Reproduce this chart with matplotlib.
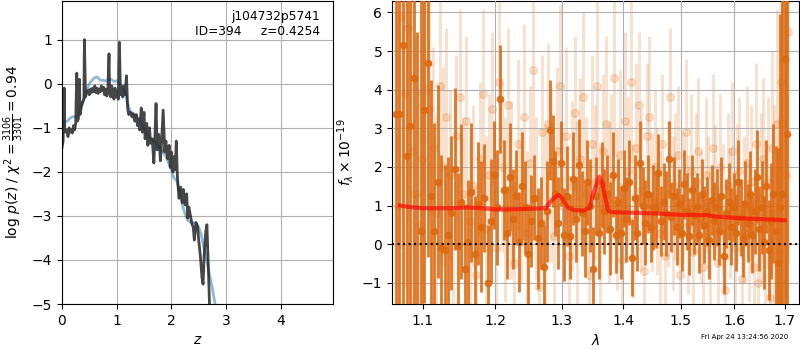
import matplotlib
matplotlib.use('Agg')
import matplotlib.pyplot as plt
import numpy as np
from matplotlib.ticker import NullLocator, FixedLocator

# --- p(z) panel ---
z_pdf = [0.00, 0.02, 0.04, 0.05, 0.07, 0.09, 0.11, 0.13, 0.15, 0.17,
         0.19, 0.21, 0.23, 0.25, 0.27, 0.28, 0.30, 0.32, 0.33, 0.35,
         0.37, 0.40, 0.41, 0.43, 0.45, 0.48, 0.50, 0.52, 0.54, 0.56,
         0.58, 0.60, 0.62, 0.64, 0.66, 0.68, 0.70, 0.72, 0.74, 0.76,
         0.78, 0.80, 0.82, 0.84, 0.86, 0.87, 0.89, 0.91, 0.93, 0.95,
         0.97, 0.99, 1.01, 1.03, 1.05, 1.07, 1.09, 1.11, 1.13, 1.15,
         1.18, 1.20, 1.22, 1.25, 1.28, 1.30, 1.33, 1.36, 1.38, 1.40,
         1.42, 1.45, 1.47, 1.50, 1.52, 1.55, 1.57, 1.60, 1.62, 1.65,
         1.68, 1.70, 1.72, 1.74, 1.77, 1.80, 1.82, 1.85, 1.88, 1.90,
         1.93, 1.96, 1.98, 2.00, 2.03, 2.05, 2.07, 2.09, 2.11, 2.14,
         2.17, 2.20, 2.22, 2.25, 2.28, 2.30, 2.32, 2.35, 2.38, 2.40,
         2.42, 2.45, 2.48, 2.50, 2.53, 2.56, 2.58, 2.60, 2.63, 2.65,
         2.68, 2.70]
logp = [-1.45, -1.30, -0.10, -1.00, -1.10, -1.05, -1.20, -1.00, -1.10, -1.05,
        -1.12, -0.95, -1.05, -0.90, 0.24, -0.85, -0.80, 0.10, -0.70, -0.55,
        -0.45, -0.35, 1.00, -0.30, -0.20, -0.15, -0.25, -0.12, -0.20, -0.10,
        -0.18, -0.05, -0.20, -0.10, -0.22, -0.12, -0.18, -0.05, -0.15, -0.08,
        -0.25, -0.12, -0.28, -0.10, 0.68, -0.20, -0.30, -0.05, -0.20, -0.35,
        -0.10, -0.30, -0.20, -0.35, 0.94, -0.25, -0.10, -0.30, -0.05, -0.25,
        0.18, -0.55, -0.70, -0.65, -0.75, -0.68, -0.85, -0.70, -0.95, -0.80,
        -1.05, -0.55, -1.10, -0.65, -1.25, -0.90, -1.40, -1.00, -1.35, -1.25,
        -1.80, -1.20, -0.45, -1.50, -1.15, -1.75, -1.35, -0.60, -1.55, -1.30,
        -1.70, -1.40, -1.90, -1.55, -2.00, -1.65, -1.95, -1.30, -2.10, -2.60,
        -2.35, -2.70, -2.40, -2.75, -2.50, -3.05, -2.80, -3.00, -3.20, -3.25,
        -3.55, -3.15, -3.25, -3.55, -3.90, -4.40, -4.55, -3.90, -3.35, -3.20,
        -4.30, -5.10]

z_smooth = [0.00, 0.03, 0.06, 0.10, 0.15, 0.20, 0.25, 0.30, 0.35, 0.40,
            0.45, 0.50, 0.55, 0.60, 0.65, 0.70, 0.75, 0.80, 0.85, 0.90,
            0.95, 1.00, 1.05, 1.10, 1.15, 1.20, 1.25, 1.30, 1.35, 1.40,
            1.45, 1.50, 1.55, 1.60, 1.65, 1.70, 1.75, 1.80, 1.85, 1.90,
            1.95, 2.00, 2.05, 2.10, 2.15, 2.20, 2.25, 2.30, 2.35, 2.40,
            2.45, 2.50, 2.55, 2.60, 2.65, 2.70, 2.75, 2.80, 2.83]
logp_smooth = [-1.35, -0.95, -0.85, -0.85, -0.78, -0.75, -0.75, -0.70, -0.50, -0.35,
               -0.15, 0.00, 0.08, 0.14, 0.15, 0.08, 0.08, 0.06, 0.10, 0.10,
               0.05, 0.07, 0.00, -0.05, -0.20, -0.45, -0.62, -0.68, -0.72, -0.80,
               -0.90, -1.02, -1.15, -1.22, -1.28, -1.32, -1.40, -1.48, -1.55, -1.65,
               -1.80, -1.95, -2.15, -2.20, -2.45, -2.75, -2.95, -3.10, -3.15, -3.15,
               -3.18, -3.25, -3.45, -3.75, -4.00, -4.35, -4.65, -5.00, -5.20]

# --- spectrum panel ---
wave_range = (1.065, 1.7044)
flux_dark = [3.38, 3.38, 5.15, 2.28, 3.05, 4.30, -2.50, 0.33, 3.47, 4.68,
             1.25, 0.35, 1.62, -0.10, -0.15, 0.25, 0.80, 1.95, -0.05, 1.10,
             -0.65, 0.05, 1.35, -0.25, 1.05, 0.45, 1.20, -1.00, 0.60, 1.80,
             0.95, 3.75, 1.40, 0.30, 1.75, 0.65, 1.25, 0.05, 1.50, 0.95,
             -0.25, 0.60, 1.20, 0.15, 0.55, -0.60, 0.85, 2.95, 2.15, 1.30,
             0.55, 2.10, 0.25, 1.25, 0.20, 1.70, 0.65, 2.05, 0.80, 0.35,
             1.60, 1.00, -0.65, 1.25, 0.30, 1.55, 0.85, 1.30, 0.40, 1.80,
             0.25, 1.10, 0.30, 1.45, 0.65, 1.60, -0.35, 1.20, 0.30, 2.10,
             1.00, 0.55, 1.30, 0.45, 0.95, 0.90, 1.85, 0.60, 1.10, 0.80,
             2.20, 0.70, 1.25, 0.45, 1.05, 0.30, 1.55, 0.85, 0.20, 1.40,
             0.75, 0.95, 0.25, 1.30, 0.50, 0.85, 0.10, 1.15, 0.60, 0.95,
             0.35, 1.25, -0.30, 0.80, 1.10, 0.45, 0.95, 0.30, 1.60, 0.70,
             0.15, 1.05, 0.55, 1.30, 0.25, 0.85, 1.75, 0.40, 0.95, 0.05,
             1.50, -0.15, 0.60, 1.30, 0.35, -0.50, 0.95, 1.30, 4.80, 2.85]
err_dark = [8.0, 8.0, 8.0, 8.0, 8.0, 8.0, 8.0, 6.0, 5.0, 5.0,
            3.0, 2.8, 2.5, 2.4, 2.2, 2.0, 2.0, 2.1, 1.9, 2.0,
            1.7, 1.6, 1.8, 1.5, 1.6, 1.7, 1.4, 1.5, 1.6, 1.4,
            1.5, 1.4, 1.3, 1.2, 1.4, 1.3, 1.2, 1.3, 1.4, 1.2,
            1.3, 1.2, 1.1, 1.3, 1.2, 1.1, 1.3, 1.3, 1.2, 1.1,
            1.2, 1.1, 1.2, 1.3, 1.1, 1.2, 1.1, 1.2, 1.1, 1.2,
            1.1, 1.2, 1.1, 1.0, 1.2, 1.1, 1.1, 1.0, 1.2, 1.1,
            1.0, 1.1, 1.2, 1.0, 1.1, 1.1, 1.0, 1.1, 1.0, 1.1,
            1.0, 1.1, 1.0, 0.9, 1.1, 1.0, 1.0, 0.9, 1.0, 1.1,
            1.0, 0.9, 1.0, 1.0, 0.9, 1.0, 0.9, 1.0, 1.0, 0.9,
            1.0, 0.9, 1.0, 0.9, 1.0, 0.9, 1.0, 0.9, 1.0, 1.0,
            0.9, 1.0, 1.0, 0.9, 1.0, 1.0, 0.9, 1.0, 1.1, 1.0,
            1.0, 1.1, 1.0, 1.1, 1.0, 1.1, 1.2, 1.1, 1.2, 1.2,
            1.2, 1.3, 1.5, 1.8, 2.2, 3.0, 5.0, 8.0, 8.0, 8.0]
flux_light = [1.0, 5.9, 3.9, 5.6, 2.4, 1.3, 0.5, 2.2, 4.0, 3.5,
              2.5, 0.8, 4.1, 2.0, 3.3, 1.8, -1.8, 2.8, 3.8, 1.3,
              3.2, 0.6, 1.5, -0.8, 2.2, 3.9, 0.4, 1.8, 3.5, -0.1,
              4.2, 2.0, 0.9, 3.6, 1.4, -0.5, 2.6, 1.0, 3.3, 0.3,
              2.1, 4.5, 1.2, -1.1, 2.9, 0.7, 3.1, 1.8, 0.2, 2.4,
              4.1, 1.0, 2.8, -0.3, 1.5, 3.4, 0.8, 2.2, 3.8, 1.3,
              -0.8, 2.6, 1.6, 4.1, 0.5, 2.4, 3.1, 1.1, 1.7, 4.3,
              0.9, 2.3, -0.4, 3.2, 1.9, 4.2, 0.6, 2.5, 3.6, 1.4,
              -0.7, 2.8, 3.3, 1.1, 2.0, 1.1, 0.3, 2.6, -0.3, 1.3,
              3.8, 0.8, 1.5, 2.3, -0.8, 1.2, 2.9, 0.5, 1.9, -0.2,
              1.6, 2.4, 0.7, -0.6, 1.8, 1.1, 0.2, 2.5, 1.4, -0.5,
              2.0, 0.9, -1.2, 1.5, 0.8, 2.4, -0.1, 1.3, 1.9, -0.9,
              0.9, 2.1, 0.3, 1.6, -0.6, 2.6, -1.0, 1.2, 2.2, 0.4,
              1.6, -1.4, 2.5, 0.8, 3.1, -0.2, 4.2, 3.1, 1.8, 5.5]
err_light = [6.0, 6.0, 5.0, 5.0, 4.0, 4.0, 3.5, 3.2, 3.0, 2.8,
             2.6, 2.5, 2.4, 2.6, 2.3, 2.2, 2.5, 2.1, 2.3, 2.0,
             2.2, 2.4, 2.1, 2.3, 2.0, 2.2, 2.4, 2.1, 2.0, 2.3,
             2.1, 2.2, 2.4, 2.0, 2.3, 2.1, 2.2, 2.0, 2.4, 2.1,
             2.0, 2.3, 2.1, 2.2, 2.0, 2.4, 2.1, 2.3, 2.0, 2.2,
             2.1, 2.0, 2.3, 2.1, 2.2, 2.0, 2.4, 2.1, 2.2, 2.0,
             2.1, 2.3, 2.0, 2.2, 2.1, 2.0, 2.3, 2.1, 2.2, 2.0,
             2.1, 2.2, 2.0, 2.3, 1.9, 2.1, 2.0, 2.2, 1.9, 2.1,
             2.0, 1.9, 2.1, 1.8, 2.0, 1.9, 2.1, 1.8, 2.0, 1.9,
             1.8, 2.0, 1.9, 1.8, 2.0, 1.7, 1.9, 1.8, 2.0, 1.7,
             1.8, 1.9, 1.7, 1.8, 2.0, 1.7, 1.8, 1.9, 1.7, 1.8,
             1.9, 1.7, 1.8, 1.9, 1.7, 1.8, 2.0, 1.8, 1.9, 1.8,
             1.9, 2.0, 1.8, 2.0, 1.9, 2.1, 2.0, 2.2, 2.1, 2.3,
             2.2, 2.4, 2.5, 2.8, 3.0, 3.5, 4.0, 5.0, 6.0, 6.0]

wave_model = [1.07, 1.08, 1.10, 1.12, 1.14, 1.16, 1.18, 1.20, 1.22, 1.24,
              1.26, 1.275, 1.285, 1.295, 1.30, 1.31, 1.32, 1.335, 1.345, 1.35,
              1.36, 1.365, 1.37, 1.375, 1.38, 1.40, 1.45, 1.50, 1.55, 1.56,
              1.60, 1.65, 1.70]
flux_model = [1.00, 0.97, 0.93, 0.93, 0.93, 0.95, 0.93, 0.90, 0.90, 0.91,
              0.92, 0.93, 1.15, 1.28, 1.20, 0.95, 0.88, 0.87, 0.95, 1.30,
              1.75, 1.60, 1.20, 0.87, 0.83, 0.82, 0.80, 0.76, 0.75, 0.72,
              0.68, 0.65, 0.62]

wave_ticks = [1.1, 1.2, 1.3, 1.4, 1.5, 1.6, 1.7]

fig = plt.figure(figsize=(8, 3.5), dpi=100)
ax = fig.add_axes([0.0775, 0.1314, 0.339, 0.866])
ax.plot(z_smooth, logp_smooth, color='tab:blue', alpha=0.5, lw=2)
ax.plot(z_pdf, logp, color='0.15', alpha=0.85, lw=2)
ax.set_xlim(0, 4.96)
ax.set_ylim(-5, 1.88)
ax.set_xticks([0, 1, 2, 3, 4])
ax.set_yticks([-5, -4, -3, -2, -1, 0, 1])
ax.grid()
ax.set_xlabel('$z$')
ax.set_ylabel(r'log $p(z)$ / $\chi^2=\frac{3106}{3301}=0.94$')
ax.text(0.95, 0.97, 'j104732p5741\nID=394     z=0.4254', transform=ax.transAxes,
        ha='right', va='top', fontsize=8.8)

ax2 = fig.add_axes([0.49, 0.1314, 0.509, 0.866])
n = len(flux_dark)
wave = np.linspace(wave_range[0], wave_range[1], n)
orange = '#dc6a12'
ax2.errorbar(wave + 0.0023, flux_light, yerr=err_light, fmt='o', color=orange,
             alpha=0.2, ms=5.5, elinewidth=2.2, capsize=0, zorder=2)
ax2.errorbar(wave, flux_dark, yerr=err_dark, fmt='o', color=orange,
             alpha=0.9, ms=4.5, elinewidth=2, capsize=0, zorder=3)
ax2.plot(wave_model, flux_model, color='red', alpha=0.65, lw=3, zorder=4)
ax2.plot([1.06, 1.73], [0, 0], color='k', linestyle=':', lw=1.5, zorder=5)
ax2.set_xscale('log')
ax2.set_xlim(1.06, 1.73)
ax2.set_ylim(-1.55, 6.3)
ax2.xaxis.set_major_locator(FixedLocator(wave_ticks))
ax2.xaxis.set_minor_locator(NullLocator())
ax2.set_xticklabels(['%.1f' % w for w in wave_ticks])
ax2.set_yticks([-1, 0, 1, 2, 3, 4, 5, 6])
ax2.set_axisbelow(False)
ax2.grid(zorder=4.5)
ax2.set_xlabel(r'$\lambda$')
ax2.set_ylabel(r'$f_\lambda \times 10^{-19}$')

fig.text(0.985, 0.03, 'Fri Apr 24 13:24:56 2020', ha='right', va='bottom', fontsize=5)

fig.savefig('out.png', dpi=100)
